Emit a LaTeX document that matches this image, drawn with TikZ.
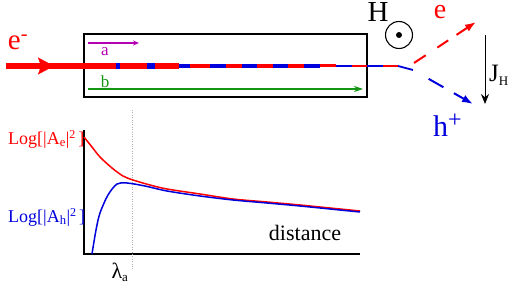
\documentclass[tikz,border=0pt]{standalone}
\usepackage{fontspec}
\setmainfont{Liberation Serif}
\usetikzlibrary{calc,arrows.meta}
\definecolor{hblue}{RGB}{0,0,220}
\definecolor{agreen}{RGB}{20,150,20}
\definecolor{amag}{RGB}{180,0,180}
\tikzset{lbl/.style={inner sep=0pt,font=\fontsize{#1}{#1}\selectfont},
 curve/.style={line width=1.5pt,smooth}}
\begin{document}
\begin{tikzpicture}[x=1pt,y=-1pt]
\useasboundingbox (0,0) rectangle (512,288);
% top part: sample with a and b
\draw[line width=1.6pt] (84,34) rectangle (367,97);
\draw[red,line width=6pt] (6,66) -- (84,66);
\draw[red,-{Stealth[length=16pt,width=17pt,inset=3pt]}] (30,66) -- (54,66);
\foreach \xa/\xb/\col in {84/116/red,116/120/hblue,120/147/red,147/155/hblue,155/179/red,179/190/hblue,190/210/red,210/226/hblue,226/242/red,242/257/hblue,257/273/red,273/288/hblue,288/304/red,304/320/hblue,320/336/red,336/352/hblue,352/367/red,367/383/hblue,383/398/red}
{\pgfmathsetmacro\w{6-4*(\xa-84)/314}
 \draw[\col,line width=\w pt] (\xa,66) -- (\xb,66);}
\coordinate (split) at (398,66);
\coordinate (bend) at (413,70);
\draw[hblue,line width=1.8pt] (split) -- (bend);
\draw[amag,line width=1.2pt,-{Stealth[length=6pt,width=5pt]}] (88,43) -- (139,43);
\node[lbl=17,amag] (a) at (105,52) {a};
\draw[agreen,line width=1.3pt,-{Stealth[length=9pt,width=6pt]}] (88,89) -- (363,89);
\node[lbl=17,agreen] (b) at (105,82) {b};
\node[lbl=29,red] (ein) at (18,42) {e\textsuperscript{-}};
% field and Hall separation
\node[lbl=29] (H) at (378,12) {H};
\node[circle,draw,line width=1.1pt,minimum size=27pt,inner sep=0pt] (field) at (399,35) {};
\fill (field.center) circle (3pt);
\coordinate (etip) at (476,22);
\coordinate (htip) at (473,104);
\draw[red,line width=2pt,dash pattern=on 14pt off 14pt on 13pt off 10pt on 40pt,-{Latex[length=11pt,width=8pt]}] (414,63) -- (etip);
\draw[hblue,line width=2pt,dash pattern=on 0pt off 18pt on 17pt off 12pt on 40pt,-{Latex[length=11pt,width=8pt]}] (bend) -- (htip);
\node[lbl=28,red] (eout) at (440,12) {e};
\node[lbl=30,hblue,anchor=base west] (hout) at (433,137) {h\raisebox{9pt}{\fontsize{24}{24}\selectfont+}};
\coordinate (jtop) at (485,35);
\coordinate (jbot) at (485,104);
\draw[line width=1pt,-{Stealth[length=10pt,width=8pt]}] (jtop) -- (jbot);
\node[lbl=25,anchor=west] (J) at (489,75) {J\textsubscript{\fontsize{13}{13}\selectfont H}};
% lower part: amplitudes vs distance
\coordinate (O) at (84,254);
\draw[line width=1.8pt] (84,130) -- (O) -- (360,254);
\draw[gray!60,dotted] (132,110) -- (132,270);
\draw[red,curve] plot coordinates {(84,137) (92,147) (100,157) (112,168) (123,176) (133,180) (150,185) (167,189) (200,194) (233,199) (267,202) (300,205) (330,208) (360,211)};
\draw[hblue,curve] plot coordinates {(92,254) (96,230) (100,213) (108,195) (117,184) (127,183) (145,186) (167,191) (200,196) (233,200) (267,203) (300,206) (330,209) (360,212)};
\node[lbl=18,red,anchor=west] (Le) at (8,139) {Log[|A\textsubscript{e}|\raisebox{6pt}{\fontsize{12}{12}\selectfont 2}\,]};
\node[lbl=18,hblue,anchor=west] (Lh) at (8,217) {Log[|A\textsubscript{h}|\raisebox{6pt}{\fontsize{12}{12}\selectfont 2}\,]};
\node[lbl=22] (dist) at (305,233) {distance};
\node[lbl=22] (lam) at (120,272) {λ\textsubscript{\fontsize{13}{13}\selectfont a}};
\end{tikzpicture}
\end{document}
